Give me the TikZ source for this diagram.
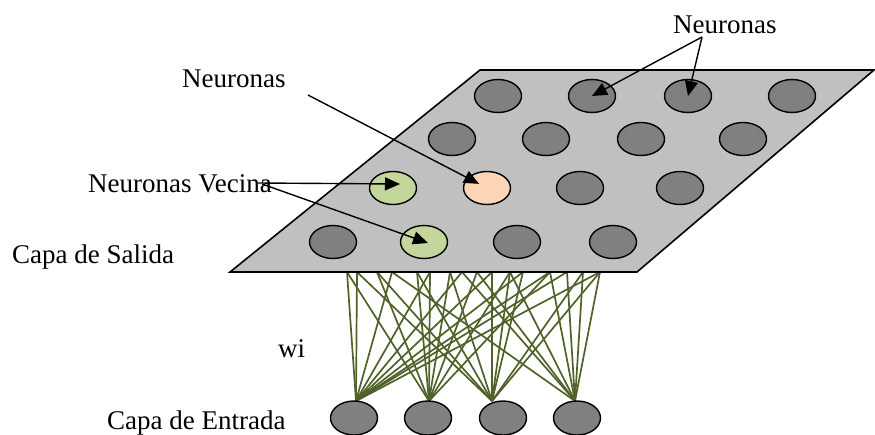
\documentclass[tikz,border=0pt]{standalone}
\usepackage{fontspec}
\setmainfont{Liberation Serif}
\usetikzlibrary{shapes.geometric,arrows.meta,calc}
\definecolor{ngray}{HTML}{808080}
\definecolor{plane}{HTML}{C0C0C0}
\definecolor{ngreen}{HTML}{C3D69B}
\definecolor{npeach}{HTML}{FBD5B5}
\definecolor{wgreen}{HTML}{4F6228}
\begin{document}
\begin{tikzpicture}[x=1pt,y=-1pt,
  neuron/.style={ellipse,draw=black,line width=1.4pt,fill=ngray,minimum width=47pt,minimum height=33pt,inner sep=0pt},
  inneuron/.style={neuron,minimum height=34pt},
  lbl/.style={anchor=base west,inner sep=0pt,font=\fontsize{27}{32}\selectfont},
  ptr/.style={draw=black,line width=1.4pt,-{Triangle[length=15pt,width=13pt]}},
  wline/.style={draw=wgreen,line width=1.7pt}]
\useasboundingbox (0,0) rectangle (875,434);

% convergence points of weights (tops of input neurons)
\coordinate (c1) at (356,401);
\coordinate (c2) at (429,401);
\coordinate (c3) at (492,401);
\coordinate (c4) at (575,401);
% weight endpoints on the plane's lower edge
\foreach \n/\x in {a/347,b/357,c/377,d/392,e/417,f/430,g/450,h/462,i/477,j/492,k/510,l/523,m/550,n/567,o/583,p/600}
  \coordinate (t\n) at (\x,272);

\foreach \t in {a,b,d,f,h,j,l,m,n,p} \draw[wline] (c1) -- (t\t);
\foreach \t in {a,c,e,f,g,i,k,m} \draw[wline] (c2) -- (t\t);
\foreach \t in {b,c,e,g,j,k,l,o,p} \draw[wline] (c3) -- (t\t);
\foreach \t in {d,h,i,k,m,n,o,p} \draw[wline] (c4) -- (t\t);

% output plane
\draw[line width=1.6pt,fill=plane] (230,272) -- (637,272) -- (874,70) -- (480,70) -- cycle;

% output neurons
\node[neuron] (r1a) at (498,96) {};
\node[neuron] (r1b) at (592,96) {};
\node[neuron] (r1c) at (688,96) {};
\node[neuron] (r1d) at (792,96) {};
\node[neuron] (r2a) at (452,139) {};
\node[neuron] (r2b) at (546,139) {};
\node[neuron] (r2c) at (641,139) {};
\node[neuron] (r2d) at (743,139) {};
\node[neuron,fill=ngreen] (g1) at (393,188) {};
\node[neuron,fill=npeach] (pk) at (487,188) {};
\node[neuron] (r3c) at (580,188) {};
\node[neuron] (r3d) at (680,188) {};
\node[neuron] (r4a) at (333,242) {};
\node[neuron,fill=ngreen] (g2) at (424,242) {};
\node[neuron] (r4c) at (517,242) {};
\node[neuron] (r4d) at (613,242) {};

% input neurons
\node[inneuron] (i1) at (354,418) {};
\node[inneuron] (i2) at (428,418) {};
\node[inneuron] (i3) at (503,418) {};
\node[inneuron] (i4) at (577,418) {};

% labels
\node[lbl] (lnr) at (673,33) {Neuronas};
\node[lbl] (lnl) at (182,87) {Neuronas};
\node[lbl] (lnv) at (88,192) {Neuronas Vecina};
\node[lbl] (lcs) at (12,263) {Capa de Salida};
\node[lbl] (lwi) at (278,357) {wi};
\node[lbl] (lce) at (107,429) {Capa de Entrada};

% pointers
\coordinate (s1) at (702,37);
\coordinate (s2) at (308,95);
\coordinate (s3) at (258,183);
\coordinate (s4) at (262,184);
\draw[ptr] (s1) -- (r1b.center);
\draw[ptr] (s1) -- (r1c.center);
\draw[ptr,shorten >=9pt] (s2) -- (pk.center);
\draw[ptr] (s3) -- ($(g1.center)+(7,-4)$);
\draw[ptr] (s4) -- ($(g2.center)+(4,1)$);
\end{tikzpicture}
\end{document}
